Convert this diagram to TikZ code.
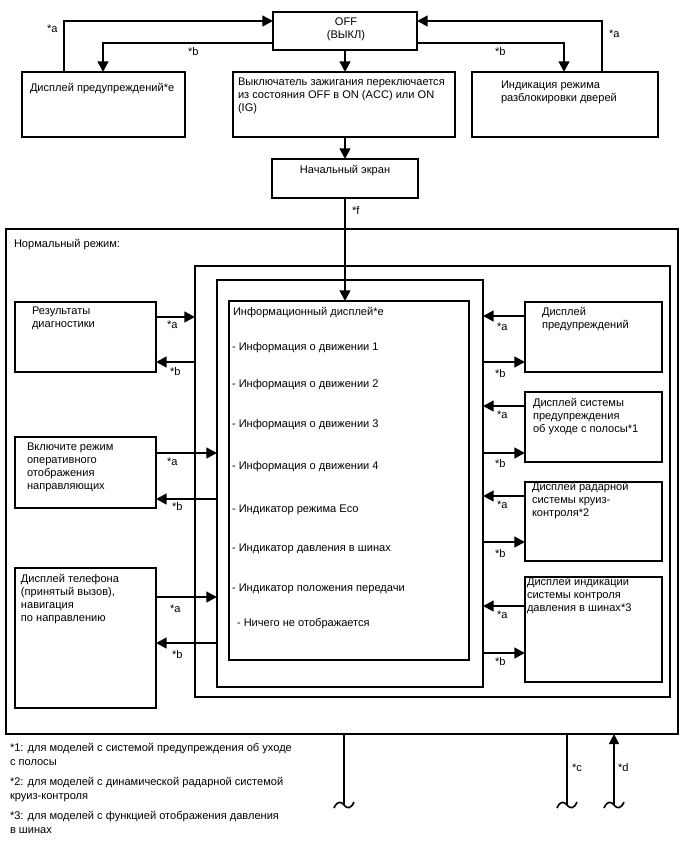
\documentclass[tikz,border=0pt]{standalone}
\usepackage{fontspec}
\setmainfont{Liberation Sans}
\usetikzlibrary{arrows.meta,calc,fit}
\newcommand\fs{\fontsize{8.3pt}{9.8pt}\selectfont}
\newcommand\stt{\rule{0pt}{8pt}}
\begin{document}
\begin{tikzpicture}[x=0.75pt,y=-0.75pt,
 box/.style={draw, line width=0.95pt, inner sep=0pt, outer sep=0pt},
 arr/.style={line width=1.7pt, -{Triangle[length=8pt,width=8pt]}},
 thinln/.style={line width=1.2pt},
 thinarr/.style={line width=1.2pt, -{Triangle[length=7.5pt,width=7.5pt]}},
 txt/.style={inner sep=0pt, outer sep=0pt, anchor=north west, align=left, font=\fs, yshift=-1.5pt, execute at begin node=\stt},
 ctxt/.style={txt, anchor=north, align=center},
]
\fill[white] (0,0) rectangle (688,852);
\useasboundingbox (0,0) rectangle (688,852);

% ---------- boxes ----------
\node[box, fit={(273,12)(417,50)}] (off) {};
\node[box, fit={(22,72)(185,137)}] (lbox) {};
\node[box, fit={(233,72)(455,137)}] (cbox) {};
\node[box, fit={(472,72)(658,137)}] (rbox) {};
\node[box, fit={(272,159)(418,198)}] (start) {};
\node[box, fit={(6,229)(678,734)}] (normal) {};
\node[box, fit={(195,266)(670,697)}] (frame) {};
\node[box, fit={(217,280)(483,687)}] (inner) {};
\node[box, fit={(229,301)(469,660)}] (info) {};
\node[box, fit={(15,302)(156,372)}] (l1) {};
\node[box, fit={(15,437)(156,508)}] (l2) {};
\node[box, fit={(15,568)(156,708)}] (l3) {};
\node[box, fit={(525,302)(662,372)}] (r1) {};
\node[box, fit={(525,392)(662,462)}] (r2) {};
\node[box, fit={(525,482)(662,561)}] (r3) {};
\node[box, fit={(525,577)(662,682)}] (r4) {};

% ---------- texts ----------
\node[ctxt] (offt) at (346,16) {OFF\\(ВЫКЛ)};
\node[txt] (lboxt) at (30,79) {Дисплей предупреждений*е};
\node[txt] (cboxt) at (238,76) {Выключатель зажигания переключается\\из состояния OFF в ON (ACC) или ON\\(IG)};
\node[txt] (rboxt) at (501,79) {Индикация режима\\разблокировки дверей};
\node[ctxt] (startt) at (345,161) {Начальный экран};
\node[txt] (normalt) at (14,235) {Нормальный режим:};
\node[txt] (infot) at (233,303) {Информационный дисплей*е};
\node[txt] (i1) at (232,338) {- Информация о движении 1};
\node[txt] (i2) at (232,375) {- Информация о движении 2};
\node[txt] (i3) at (232,415) {- Информация о движении 3};
\node[txt] (i4) at (232,457) {- Информация о движении 4};
\node[txt] (i5) at (232,500) {- Индикатор режима Eco};
\node[txt] (i6) at (232,539) {- Индикатор давления в шинах};
\node[txt] (i7) at (232,579) {- Индикатор положения передачи};
\node[txt] (i8) at (237,614) {- Ничего не отображается};
\node[txt] (l1t) at (32,305) {Результаты\\диагностики};
\node[txt] (l2t) at (27,441) {Включите режим\\оперативного\\отображения\\направляющих};
\node[txt] (l3t) at (21,572) {Дисплей телефона\\(принятый вызов),\\навигация\\по направлению};
\node[txt] (r1t) at (542,305) {Дисплей\\предупреждений};
\node[txt] (r2t) at (533,396) {Дисплей системы\\предупреждения\\об уходе с полосы*1};
\node[txt] (r3t) at (532,480) {Дисплей радарной\\системы круиз-\\контроля*2};
\node[txt] (r4t) at (527,575) {Дисплей индикации\\системы контроля\\давления в шинах*3};
\node[txt] (fn1) at (10,741) {*1: для моделей с системой предупреждения об уходе\\[1pt]с полосы};
\node[txt] (fn2) at (10,775) {*2: для моделей с динамической радарной системой\\[1pt]круиз-контроля};
\node[txt] (fn3) at (10,809) {*3: для моделей с функцией отображения давления\\[1pt]в шинах};

% ---------- top connectors ----------
\coordinate (ta1) at ($(lbox.north west)+(42,0)$);
\coordinate (ta2) at ($(off.north west)+(0,9)$);
\draw[arr] (ta1) |- (ta2);
\coordinate (tb1) at ($(off.north west)+(0,31)$);
\coordinate (tb2) at ($(lbox.north west)+(81,0)$);
\draw[arr] (tb1) -| (tb2);
\draw[arr] (off.south) -- (off.south |- cbox.north);
\coordinate (tb3) at ($(off.north east)+(0,31)$);
\coordinate (tb4) at ($(rbox.north west)+(92,0)$);
\draw[arr] (tb3) -| (tb4);
\coordinate (ta3) at ($(rbox.north west)+(130,0)$);
\coordinate (ta4) at ($(off.north east)+(0,9)$);
\draw[arr] (ta3) |- (ta4);
\draw[arr] (start.north |- cbox.south) -- (start.north);
\draw[arr] (start.south) -- (start.south |- info.north);

\node[txt] (lta) at (47,20) {*a};
\node[txt] (ltb) at (188,43) {*b};
\node[txt] (rtb) at (495,43) {*b};
\node[txt] (rta) at (609,25) {*a};
\node[txt] (lf) at (352,202) {*f};

% ---------- left connectors ----------
\coordinate (l1a) at ($(l1.north east)+(0,15)$);
\coordinate (l1b) at ($(l1.north east)+(0,60)$);
\draw[arr] (l1a) -- (l1a -| frame.west);
\draw[arr] (l1b -| frame.west) -- (l1b);
\coordinate (l2a) at ($(l2.north east)+(0,16)$);
\coordinate (l2b) at ($(l2.north east)+(0,62)$);
\draw[arr] (l2a) -- (l2a -| inner.west);
\draw[arr] (l2b -| inner.west) -- (l2b);
\coordinate (l3a) at ($(l3.north east)+(0,29)$);
\coordinate (l3b) at ($(l3.north east)+(0,75)$);
\draw[arr] (l3a) -- (l3a -| inner.west);
\draw[arr] (l3b -| inner.west) -- (l3b);

\node[txt] (l1al) at (167,316) {*a};
\node[txt] (l1bl) at (170,363) {*b};
\node[txt] (l2al) at (167,453) {*a};
\node[txt] (l2bl) at (172,498) {*b};
\node[txt] (l3al) at (170,600) {*a};
\node[txt] (l3bl) at (172,646) {*b};

% ---------- right connectors ----------
\coordinate (r1a) at ($(r1.north west)+(0,14)$);
\coordinate (r1b) at ($(r1.north west)+(0,60)$);
\draw[arr] (r1a) -- (r1a -| inner.east);
\draw[arr] (r1b -| inner.east) -- (r1b);
\coordinate (r2a) at ($(r2.north west)+(0,14)$);
\coordinate (r2b) at ($(r2.north west)+(0,61)$);
\draw[arr] (r2a) -- (r2a -| inner.east);
\draw[arr] (r2b -| inner.east) -- (r2b);
\coordinate (r3a) at ($(r3.north west)+(0,14)$);
\coordinate (r3b) at ($(r3.north west)+(0,60)$);
\draw[arr] (r3a) -- (r3a -| inner.east);
\draw[arr] (r3b -| inner.east) -- (r3b);
\coordinate (r4a) at ($(r4.north west)+(0,29)$);
\coordinate (r4b) at ($(r4.north west)+(0,76)$);
\draw[arr] (r4a) -- (r4a -| inner.east);
\draw[arr] (r4b -| inner.east) -- (r4b);

\node[txt] (r1al) at (497,318) {*a};
\node[txt] (r1bl) at (495,365) {*b};
\node[txt] (r2al) at (497,406) {*a};
\node[txt] (r2bl) at (495,455) {*b};
\node[txt] (r3al) at (497,496) {*a};
\node[txt] (r3bl) at (495,545) {*b};
\node[txt] (r4al) at (497,606) {*a};
\node[txt] (r4bl) at (495,653) {*b};

% ---------- bottom connectors ----------
\coordinate (b1) at ($(normal.south west)+(338,0)$);
\coordinate (b2) at ($(normal.south west)+(561,0)$);
\coordinate (b3) at ($(normal.south west)+(608,0)$);
\coordinate (e1) at ($(b1)+(0,71)$);
\coordinate (e2) at ($(b2)+(0,71)$);
\coordinate (e3) at ($(b3)+(0,71)$);
\draw[thinln] (b1) -- (e1);
\draw[thinln] (b2) -- (e2);
\draw[thinarr] (e3) -- (b3);
\foreach \e in {e1,e2,e3}{
  \draw[thinln] ($(\e)+(-10,3)$) .. controls ($(\e)+(-7,-4)$) and ($(\e)+(-3,-4)$) .. (\e)
     .. controls ($(\e)+(3,4)$) and ($(\e)+(7,4)$) .. ($(\e)+(10,-3)$);
}
\node[txt] (lc) at (572,759) {*c};
\node[txt] (ld) at (618,759) {*d};
\end{tikzpicture}
\end{document}
